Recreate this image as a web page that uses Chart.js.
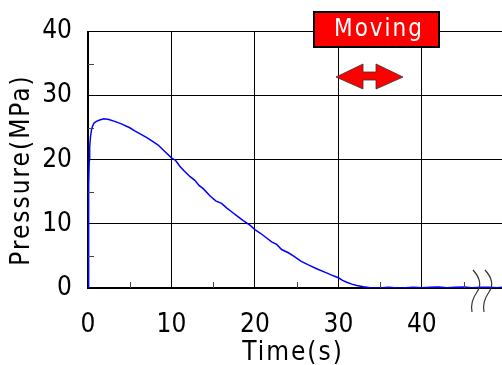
<!DOCTYPE html>
<html>
<head>
<meta charset="utf-8">
<script src="https://cdn.jsdelivr.net/npm/chart.js@4/dist/chart.umd.min.js"></script>
<style>
  html, body { margin: 0; padding: 0; background: #fff; }
  #wrap { width: 502px; height: 365px; }
</style>
</head>
<body>
<div id="wrap"><canvas id="main-chart" width="502" height="365"></canvas></div>
<script>
// time (s) and pressure (MPa)
const timeS = [0, 0.05, 0.1, 0.15, 0.2, 0.3, 0.4, 0.5, 0.7, 1.0, 1.4, 1.9, 2.5, 3.2, 4.0, 5.0, 5.6, 6.3, 7.0, 7.7,
  8.4, 9.2, 10.0, 10.5, 11.0, 11.5, 12.2, 12.8, 13.3, 13.8, 14.6, 15.3, 16.0, 16.6, 17.2, 18.0, 18.6, 19.4, 20.0, 20.7,
  21.4, 22.0, 22.6, 23.2, 24.0, 24.6, 25.5, 26.4, 27.4, 28.5, 29.4, 30.0, 30.5, 31.0, 31.6, 32.2, 33.0, 33.8, 35, 36,
  37, 38, 39, 40, 41, 42, 43, 44, 45, 46, 47, 48, 49, 49.6];
const pressure = [0, 8, 16, 20, 22, 23.6, 24.5, 25.1, 25.7, 26.0, 26.2, 26.4, 26.3, 26.0, 25.6, 25.0, 24.5, 24.0, 23.5, 22.9,
  22.3, 21.3, 20.3, 19.9, 19.0, 18.3, 17.4, 16.8, 16.0, 15.5, 14.4, 13.6, 13.2, 12.5, 11.9, 11.1, 10.5, 9.8, 9.1, 8.5,
  7.8, 7.2, 6.8, 6.0, 5.5, 5.0, 4.2, 3.6, 3.0, 2.4, 1.9, 1.6, 1.2, 0.9, 0.6, 0.4, 0.2, 0.05, 0, 0.1,
  0, 0.05, 0.12, 0.05, 0.1, 0.15, 0.05, 0.1, 0.15, 0.05, 0.1, 0.12, 0.05, 0.1];
const xTicks = [0, 10, 20, 30, 40];
const yTicks = [0, 10, 20, 30, 40];
const xMinor = [5, 15, 25, 35, 45];
const yMinor = [5, 15, 25, 35];
const xTitle = 'Time(s)';
const yTitle = 'Pressure(MPa)';
const movingLabel = 'Moving';

const FONT = "'Liberation Sans Narrow', 'DejaVu Sans Condensed', sans-serif";

// inward minor ticks, axis titles, the Moving box + arrow, break marks
const extras = {
  id: 'extras',
  afterDraw(chart) {
    const ctx = chart.ctx;
    const x = chart.scales.x, y = chart.scales.y;
    const area = chart.chartArea;
    ctx.save();

    ctx.strokeStyle = '#444';
    ctx.lineWidth = 1;
    xMinor.forEach(v => {
      const px = Math.round(x.getPixelForValue(v)) + 0.5;
      ctx.beginPath(); ctx.moveTo(px, area.bottom); ctx.lineTo(px, area.bottom - 6); ctx.stroke();
    });
    yMinor.forEach(v => {
      const py = Math.round(y.getPixelForValue(v)) + 0.5;
      ctx.beginPath(); ctx.moveTo(area.left, py); ctx.lineTo(area.left + 6, py); ctx.stroke();
    });

    // titles
    ctx.fillStyle = '#000';
    ctx.font = '26px ' + FONT;
    ctx.textAlign = 'center';
    ctx.textBaseline = 'middle';
    ctx.letterSpacing = '2px';
    ctx.fillText(xTitle, 293, 353);
    ctx.save();
    ctx.translate(22, 170);
    ctx.rotate(-Math.PI / 2);
    ctx.fillText(yTitle, 0, 0);
    ctx.restore();

    // Moving box
    ctx.fillStyle = '#ff0000';
    ctx.fillRect(314, 12, 125, 35);
    ctx.strokeStyle = '#000';
    ctx.lineWidth = 2;
    ctx.strokeRect(314, 12, 125, 35);
    ctx.fillStyle = '#fff';
    ctx.letterSpacing = '2px';
    ctx.font = '24px ' + FONT;
    ctx.fillText(movingLabel, 379, 30);
    ctx.letterSpacing = '0px';

    // double arrow
    ctx.beginPath();
    ctx.moveTo(336, 77);
    ctx.lineTo(363, 64);
    ctx.lineTo(363, 72);
    ctx.lineTo(376, 72);
    ctx.lineTo(376, 64);
    ctx.lineTo(403, 77);
    ctx.lineTo(376, 89);
    ctx.lineTo(376, 80);
    ctx.lineTo(363, 80);
    ctx.lineTo(363, 89);
    ctx.closePath();
    ctx.fillStyle = '#ff0000';
    ctx.fill();
    ctx.strokeStyle = '#333';
    ctx.lineWidth = 0.8;
    ctx.stroke();

    // axis break marks
    ctx.strokeStyle = '#333';
    ctx.lineWidth = 1.2;
    [0, 12].forEach(dx => {
      ctx.beginPath();
      ctx.moveTo(473 + dx, 270);
      ctx.quadraticCurveTo(484 + dx, 282, 477 + dx, 292);
      ctx.quadraticCurveTo(470 + dx, 302, 472 + dx, 312);
      ctx.stroke();
    });

    ctx.restore();
  }
};

new Chart(document.getElementById('main-chart').getContext('2d'), {
  type: 'line',
  data: {
    datasets: [{
      data: timeS.map((t, i) => ({ x: t, y: pressure[i] })),
      borderColor: '#0000ff',
      borderWidth: 1.5,
      pointRadius: 0,
      tension: 0,
      fill: false
    }]
  },
  options: {
    responsive: false,
    animation: false,
    devicePixelRatio: 1,
    layout: { padding: { top: 24, right: 0, left: 0, bottom: 0 } },
    plugins: { legend: { display: false }, tooltip: { enabled: false } },
    scales: {
      x: {
        type: 'linear',
        min: 0,
        max: 49.6,
        afterBuildTicks: s => { s.ticks = xTicks.map(v => ({ value: v })); },
        afterFit: s => { s.height = 77; },
        grid: { color: '#000', lineWidth: 1, drawTicks: false },
        border: { color: '#000', width: 2 },
        ticks: { color: '#000', padding: 22, maxRotation: 0, font: { family: FONT, size: 26 } }
      },
      y: {
        min: 0,
        max: 40,
        afterBuildTicks: s => { s.ticks = yTicks.map(v => ({ value: v })); },
        afterFit: s => { s.width = 88; },
        grid: { color: '#000', lineWidth: 1, drawTicks: false },
        border: { color: '#000', width: 2 },
        ticks: { color: '#000', padding: 16, font: { family: FONT, size: 26 } }
      }
    }
  },
  plugins: [extras]
});
</script>
</body>
</html>
